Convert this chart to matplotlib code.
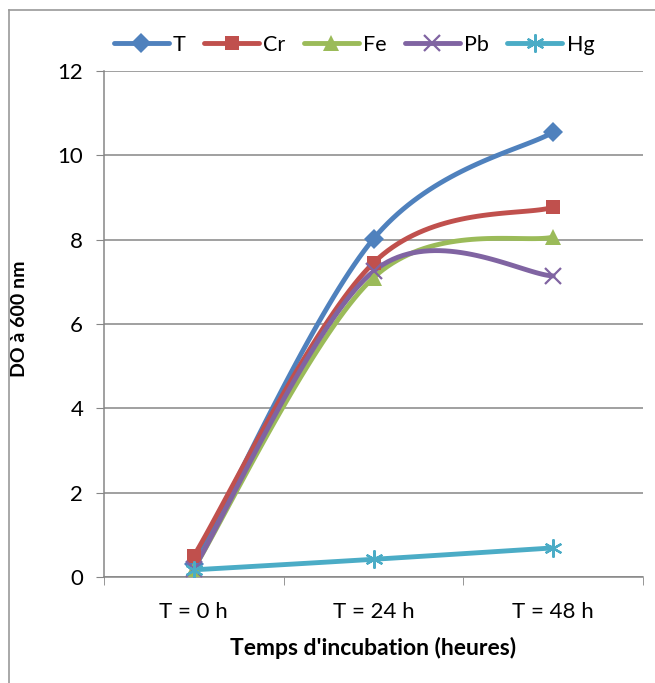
import matplotlib
matplotlib.use("Agg")
import matplotlib.pyplot as plt
from matplotlib.lines import Line2D
import numpy as np

plt.rcParams["font.family"] = ["Lato", "DejaVu Sans"]

categories = ["T = 0 h", "T = 24 h", "T = 48 h"]
series_names = ["T", "Cr", "Fe", "Pb", "Hg"]
t_values = [0.30, 8.02, 10.55]
cr_values = [0.50, 7.45, 8.77]
fe_values = [0.20, 7.10, 8.06]
pb_values = [0.20, 7.25, 7.14]
hg_values = [0.17, 0.42, 0.69]

colors = ["#4F81BD", "#C0504D", "#9BBB59", "#8064A2", "#4BACC6"]
markers = ["D", "s", "^", "x", (6, 2, 0)]
marker_sizes = [10, 10, 12, 12, 13]


def smooth(xs, ys, n=40):
    # Excel-like smoothed line: cubic Bezier with neighbour-based control points
    pts = np.column_stack([xs, ys]).astype(float)
    padded = np.vstack([pts[0], pts, pts[-1]])
    out = []
    t = np.linspace(0, 1, n)[:, None]
    for i in range(len(pts) - 1):
        p0, p1 = padded[i + 1], padded[i + 2]
        c1 = p0 + (padded[i + 2] - padded[i]) / 6
        c2 = p1 - (padded[i + 3] - padded[i + 1]) / 6
        seg = (1 - t) ** 3 * p0 + 3 * (1 - t) ** 2 * t * c1 + 3 * (1 - t) * t ** 2 * c2 + t ** 3 * p1
        out.append(seg if i == 0 else seg[1:])
    curve = np.vstack(out)
    return curve[:, 0], curve[:, 1]


fig = plt.figure(figsize=(6.55, 6.83), dpi=100)
ax = fig.add_axes([104 / 655, 1 - 577 / 683, 539 / 655, 506 / 683])

x = np.arange(len(categories))
all_values = [t_values, cr_values, fe_values, pb_values, hg_values]
handles = []
for name, values, color, marker, ms in zip(series_names, all_values, colors, markers, marker_sizes):
    sx, sy = smooth(x, values)
    ax.plot(sx, sy, color=color, lw=3.5, solid_capstyle="round", zorder=3)
    mew = 1.6 if marker in ("x",) or isinstance(marker, tuple) else 0
    ax.plot(x, values, linestyle="none", marker=marker, ms=ms, color=color,
            mec=color, mew=mew, zorder=4)
    handles.append(Line2D([], [], color=color, lw=3.5, marker=marker, ms=ms,
                          mec=color, mew=mew, solid_capstyle="round"))

ax.set_xlim(-0.5, 2.5)
ax.set_ylim(0, 12)
ax.set_yticks(range(0, 13, 2))
ax.set_xticks(x, categories)
ax.set_xticks([-0.5, 0.5, 1.5, 2.5], minor=True)
ax.tick_params(axis="x", which="major", length=0, pad=18, labelsize=16)
ax.tick_params(axis="x", which="minor", length=6, color="#868686", direction="out")
ax.tick_params(axis="y", length=6, color="#868686", direction="out", pad=9, labelsize=16)
ax.grid(axis="y", color="#868686", lw=1.1, zorder=0)
ax.set_axisbelow(True)
for side in ("top", "right"):
    ax.spines[side].set_visible(False)
for side in ("left", "bottom"):
    ax.spines[side].set_color("#868686")
    ax.spines[side].set_linewidth(1.1)

ax.set_xlabel("Temps d'incubation (heures)", fontsize=16.5, fontweight="bold")
ax.xaxis.set_label_coords(0.5, -0.118)
ax.set_ylabel("DO à 600 nm", fontsize=14, fontweight="bold")
ax.yaxis.set_label_coords(-0.141, 0.51)

fig.legend(handles, series_names, loc="center", bbox_to_anchor=(354 / 655, 1 - 45 / 683),
           ncol=5, frameon=False, fontsize=15.5, handlelength=2.55, handletextpad=0.2,
           columnspacing=0.85)

# chart area border
fig.add_artist(Line2D([8.5 / 655, 8.5 / 655], [0, 1 - 10 / 683], transform=fig.transFigure,
                      color="#9a9a9a", lw=1.2))
fig.add_artist(Line2D([8.5 / 655, 1], [1 - 10 / 683, 1 - 10 / 683], transform=fig.transFigure,
                      color="#9a9a9a", lw=1.2))

fig.savefig("out.png", dpi=100)
